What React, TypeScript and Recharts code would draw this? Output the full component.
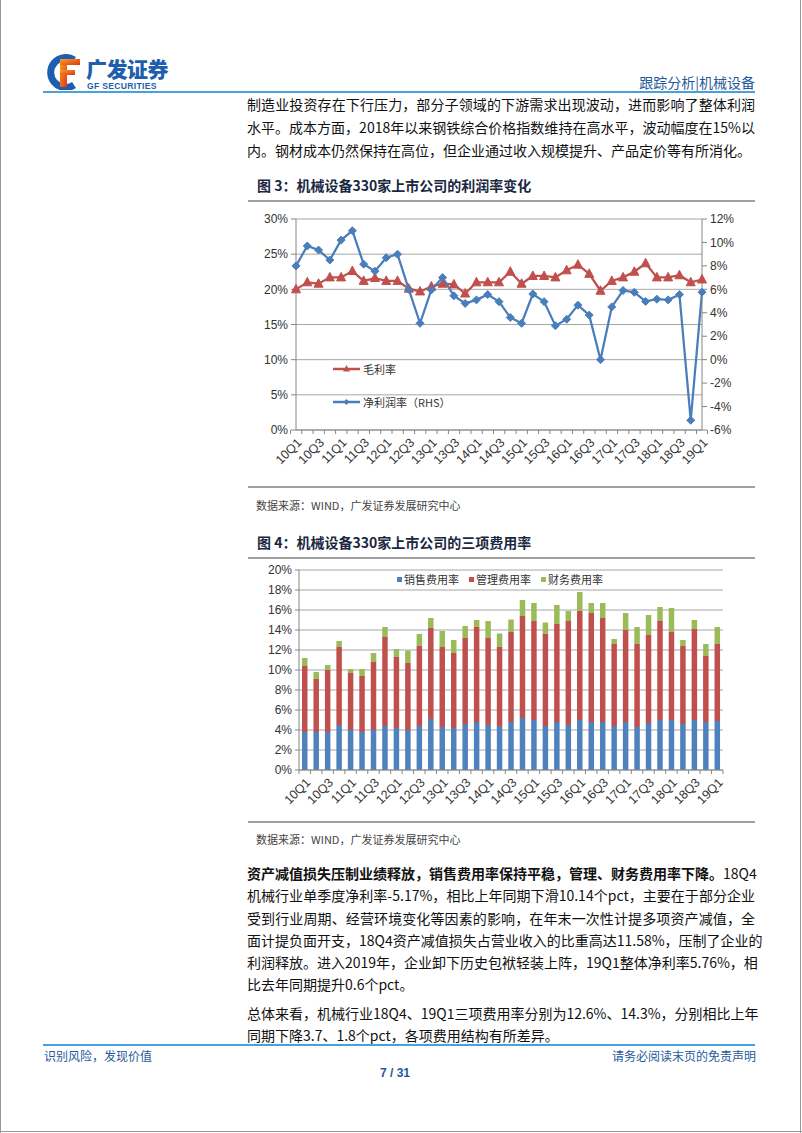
import React from 'react'
import {
  LineChart,
  Line,
  BarChart,
  Bar,
  XAxis,
  YAxis,
  CartesianGrid,
  Legend,
} from 'recharts'

// quarters 10Q1 .. 19Q1
const QUARTERS = [
  '10Q1', '10Q2', '10Q3', '10Q4', '11Q1', '11Q2', '11Q3', '11Q4',
  '12Q1', '12Q2', '12Q3', '12Q4', '13Q1', '13Q2', '13Q3', '13Q4',
  '14Q1', '14Q2', '14Q3', '14Q4', '15Q1', '15Q2', '15Q3', '15Q4',
  '16Q1', '16Q2', '16Q3', '16Q4', '17Q1', '17Q2', '17Q3', '17Q4',
  '18Q1', '18Q2', '18Q3', '18Q4', '19Q1',
]

// 图3 毛利率 (left axis, %)
const GROSS_MARGIN = [
  20.0, 21.0, 20.8, 21.7, 21.7, 22.6, 21.2, 21.6, 21.2, 21.2, 20.1, 19.7,
  20.4, 20.8, 20.7, 19.4, 21.0, 21.0, 21.0, 22.5, 20.8, 21.9, 21.9, 21.7,
  22.7, 23.5, 22.2, 19.8, 21.2, 21.7, 22.5, 23.7, 21.7, 21.7, 22.0, 21.0, 21.4,
]

// 图3 净利润率 (right axis, %)
const NET_MARGIN = [
  8.0, 9.7, 9.35, 8.5, 10.2, 11.0, 8.15, 7.55, 8.7, 9.0, 6.0, 3.1,
  5.95, 7.0, 5.45, 4.8, 5.1, 5.55, 4.95, 3.6, 3.1, 5.6, 4.95, 2.9,
  3.45, 4.65, 3.8, 0.0, 4.5, 5.9, 5.75, 4.97, 5.16, 5.1, 5.55, -5.17, 5.76,
]

// 图4 三项费用率 (%)
const SELLING = [
  3.8, 3.8, 3.8, 4.5, 4.0, 3.8, 4.0, 4.4, 4.2, 4.0, 4.4, 5.1,
  4.3, 4.2, 4.6, 4.8, 4.5, 4.4, 4.8, 5.2, 5.0, 4.4, 4.8, 4.5,
  5.0, 4.8, 4.8, 4.4, 4.8, 4.3, 4.7, 5.0, 5.0, 4.6, 5.0, 4.8, 4.9,
]
const ADMIN = [
  6.6, 5.3, 6.2, 7.8, 5.7, 5.6, 6.8, 8.9, 7.1, 6.7, 8.0, 9.1,
  8.0, 7.5, 8.6, 9.5, 8.7, 7.9, 9.0, 10.2, 9.9, 9.25, 9.8, 10.4,
  10.9, 10.9, 10.4, 8.2, 9.2, 8.3, 8.8, 9.9, 8.8, 7.8, 9.1, 6.6, 7.7,
]
const FINANCE = [
  0.8, 0.7, 0.5, 0.6, 0.4, 0.7, 0.9, 1.0, 0.8, 1.25, 1.2, 1.0,
  1.6, 1.3, 1.2, 0.7, 1.7, 1.35, 1.25, 1.6, 1.8, 1.1, 1.9, 1.0,
  1.9, 1.0, 1.5, 0.5, 1.7, 1.7, 2.0, 1.4, 2.4, 0.6, 0.9, 1.2, 1.7,
]

const LEFT_TICKS = [0, 5, 10, 15, 20, 25, 30]
const RIGHT_TICKS = [-6, -4, -2, 0, 2, 4, 6, 8, 10, 12]
const COST_TICKS = [0, 2, 4, 6, 8, 10, 12, 14, 16, 18, 20]

const PROFIT_SERIES = [
  { key: 'gross', name: '毛利率', color: '#c0504d' },
  { key: 'net', name: '净利润率（RHS）', color: '#4a7ebb' },
]
const COST_SERIES = [
  { key: 'selling', name: '销售费用率', color: '#4f81bd' },
  { key: 'admin', name: '管理费用率', color: '#c0504d' },
  { key: 'finance', name: '财务费用率', color: '#9bbb59' },
]

const profitData = QUARTERS.map((q, i) => ({
  q,
  gross: GROSS_MARGIN[i],
  net: NET_MARGIN[i],
}))
const costData = QUARTERS.map((q, i) => ({
  q,
  selling: SELLING[i],
  admin: ADMIN[i],
  finance: FINANCE[i],
}))

const AXIS_FONT = '"Liberation Sans", Arial, sans-serif'
const CJK = '"Noto Sans CJK SC", sans-serif'
const BODY_FONT = '"Liberation Sans Narrow", "Noto Sans CJK SC", sans-serif'
const AXIS_GRAY = '#868686'
const GRID_GRAY = '#a6a6a6'
const BLUE_TEXT = '#1f5a9c'

const P1_W = 406
const P2_W = 424

const QuarterTick = (props: any) => {
  const { x, y, payload, band } = props
  const i = props.index ?? payload.index
  const half = band / 2
  const lx = x + 4
  const ly = y + 11
  return (
    <g>
      <line x1={x - half} x2={x - half} y1={y} y2={y + 4} stroke={AXIS_GRAY} />
      {i === QUARTERS.length - 1 && (
        <line x1={x + half} x2={x + half} y1={y} y2={y + 4} stroke={AXIS_GRAY} />
      )}
      {i % 2 === 0 && (
        <text
          x={lx}
          y={ly}
          transform={`rotate(-45 ${lx} ${ly})`}
          textAnchor="end"
          dominantBaseline="middle"
          fontSize={12.5}
          fontFamily={AXIS_FONT}
          fill="#333"
        >
          {payload.value}
        </text>
      )}
    </g>
  )
}

const Triangle = (p: any) => {
  const { cx, cy, index } = p
  if (cx == null || cy == null) return <g key={`t${index}`} />
  return (
    <polygon
      key={`t${index}`}
      points={`${cx},${cy - 5} ${cx - 4.5},${cy + 3.5} ${cx + 4.5},${cy + 3.5}`}
      fill="#c0504d"
      stroke="#c0504d"
    />
  )
}

const Diamond = (p: any) => {
  const { cx, cy, index } = p
  if (cx == null || cy == null) return <g key={`d${index}`} />
  return (
    <polygon
      key={`d${index}`}
      points={`${cx},${cy - 4} ${cx + 4},${cy} ${cx},${cy + 4} ${cx - 4},${cy}`}
      fill="#4a7ebb"
      stroke="#4a7ebb"
    />
  )
}

const ProfitLegend = () => (
  <svg width={160} height={50}>
    {PROFIT_SERIES.map((s, i) => {
      const cy = 7 + i * 33
      return (
        <g key={s.key}>
          <line x1={0} x2={27} y1={cy} y2={cy} stroke={s.color} strokeWidth={2.5} />
          {i === 0 ? (
            <polygon points={`13.5,${cy - 4} 10,${cy + 2.5} 17,${cy + 2.5}`} fill={s.color} />
          ) : (
            <polygon points={`13.5,${cy - 3} 16.5,${cy} 13.5,${cy + 3} 10.5,${cy}`} fill={s.color} />
          )}
          <text x={30} y={cy} dominantBaseline="central" fontSize={11} fontFamily={CJK} fill="#333">
            {s.name}
          </text>
        </g>
      )
    })}
  </svg>
)

const CostLegend = () => (
  <div style={{ display: 'flex', gap: 10, alignItems: 'center' }}>
    {COST_SERIES.map((s) => (
      <div key={s.key} style={{ display: 'flex', alignItems: 'center', gap: 2 }}>
        <span style={{ width: 5, height: 5, background: s.color, display: 'inline-block' }} />
        <span style={{ fontSize: 11, fontFamily: CJK, color: '#333', lineHeight: '14px' }}>{s.name}</span>
      </div>
    ))}
  </div>
)

const ProfitChart = () => (
  <LineChart
    width={520}
    height={275}
    data={profitData}
    margin={{ top: 14, right: 0, bottom: 0, left: 0 }}
  >
    <CartesianGrid yAxisId="left" vertical={false} stroke={GRID_GRAY} />
    <XAxis
      dataKey="q"
      interval={0}
      height={50}
      tickSize={0}
      tickMargin={0}
      tickLine={false}
      stroke={AXIS_GRAY}
      tick={<QuarterTick band={P1_W / QUARTERS.length} />}
    />
    <YAxis
      yAxisId="left"
      domain={[0, 30]}
      ticks={LEFT_TICKS}
      interval={0}
      width={56}
      tickSize={5}
      tickMargin={3}
      stroke={AXIS_GRAY}
      tick={{ fill: '#333', fontSize: 12, fontFamily: AXIS_FONT }}
      tickFormatter={(v) => `${v}%`}
    />
    <YAxis
      yAxisId="right"
      orientation="right"
      domain={[-6, 12]}
      ticks={RIGHT_TICKS}
      interval={0}
      width={58}
      tickSize={5}
      tickMargin={3}
      stroke={AXIS_GRAY}
      tick={{ fill: '#333', fontSize: 12, fontFamily: AXIS_FONT }}
      tickFormatter={(v) => `${v}%`}
    />
    <Legend
      layout="horizontal"
      verticalAlign="middle"
      align="center"
      wrapperStyle={{ top: 157, left: 93, width: 160, height: 50 }}
      content={<ProfitLegend />}
    />
    <Line
      yAxisId="left"
      dataKey="gross"
      name={PROFIT_SERIES[0].name}
      stroke={PROFIT_SERIES[0].color}
      strokeWidth={2.25}
      dot={Triangle}
      isAnimationActive={false}
    />
    <Line
      yAxisId="right"
      dataKey="net"
      name={PROFIT_SERIES[1].name}
      stroke={PROFIT_SERIES[1].color}
      strokeWidth={2.25}
      dot={Diamond}
      isAnimationActive={false}
    />
  </LineChart>
)

const CostChart = () => (
  <BarChart
    width={500}
    height={260}
    data={costData}
    margin={{ top: 10, right: 17, bottom: 0, left: 0 }}
  >
    <CartesianGrid vertical={false} stroke={GRID_GRAY} />
    <XAxis
      dataKey="q"
      interval={0}
      height={50}
      tickSize={0}
      tickMargin={0}
      tickLine={false}
      stroke={AXIS_GRAY}
      tick={<QuarterTick band={P2_W / QUARTERS.length} />}
    />
    <YAxis
      domain={[0, 20]}
      ticks={COST_TICKS}
      interval={0}
      width={59}
      tickSize={4}
      tickMargin={3}
      stroke={AXIS_GRAY}
      tick={{ fill: '#333', fontSize: 12, fontFamily: AXIS_FONT }}
      tickFormatter={(v) => `${v}%`}
    />
    <Legend
      layout="horizontal"
      verticalAlign="middle"
      align="center"
      wrapperStyle={{ top: 12, left: 157, width: 220, height: 14 }}
      content={<CostLegend />}
    />
    {COST_SERIES.map((s) => (
      <Bar
        key={s.key}
        dataKey={s.key}
        name={s.name}
        stackId="cost"
        fill={s.color}
        barSize={5.5}
        isAnimationActive={false}
      />
    ))}
  </BarChart>
)

const Line1 = ({ top, children, justify = true, bold = false }: any) => (
  <div
    style={{
      position: 'absolute',
      left: 247,
      top: top - 11,
      width: 508,
      height: 22,
      lineHeight: '22px',
      fontSize: 14,
      fontFamily: BODY_FONT,
      color: '#111',
      textAlign: justify ? 'justify' : 'left',
      textAlignLast: justify ? 'justify' : 'left',
      fontWeight: bold ? 700 : 400,
      whiteSpace: 'nowrap',
    } as React.CSSProperties}
  >
    {children}
  </div>
)

const Abs = ({ style, children }: any) => (
  <div style={{ position: 'absolute', ...style }}>{children}</div>
)

const Logo = () => (
  <svg width={40} height={36} style={{ position: 'absolute', left: 44, top: 54 }}>
    <defs>
      <linearGradient id="fg" x1="0" y1="0" x2="1" y2="1">
        <stop offset="0" stopColor="#f7a21b" />
        <stop offset="1" stopColor="#e4321f" />
      </linearGradient>
    </defs>
    <path d="M30 6 A15 15 0 1 0 30 31" fill="none" stroke="#1d5fae" strokeWidth={7} />
    <rect x={16} y={8} width={7} height={25} fill="url(#fg)" />
    <rect x={16} y={5} width={20} height={6} fill="url(#fg)" />
    <rect x={16} y={16} width={15} height={5} fill="url(#fg)" />
  </svg>
)

const GrayRule = ({ top }: { top: number }) => (
  <Abs style={{ left: 248, top, width: 507, height: 2, background: '#a0a0a0' }} />
)

export default function App() {
  return (
    <div
      style={{
        position: 'absolute',
        left: 0,
        top: 0,
        width: 802,
        height: 1133,
        background: '#fff',
        overflow: 'hidden',
        fontFamily: CJK,
      }}
    >
      {/* page frame */}
      <Abs style={{ left: 0, top: 0, width: 1, height: 1133, background: '#999' }} />
      <Abs style={{ left: 800, top: 0, width: 1, height: 1133, background: '#999' }} />
      <Abs style={{ left: 0, top: 1131, width: 802, height: 1, background: '#999' }} />

      {/* header */}
      <Logo />
      <Abs style={{ left: 86, top: 56, fontSize: 21, fontWeight: 900, color: '#1d5fae', lineHeight: '24px', letterSpacing: -0.5 }}>
        广发证券
      </Abs>
      <Abs style={{ left: 87, top: 81, fontSize: 8.6, fontWeight: 700, color: '#1d5fae', fontFamily: AXIS_FONT, lineHeight: '10px', letterSpacing: 0.3 }}>
        GF SECURITIES
      </Abs>
      <Abs style={{ right: 47, top: 72, fontSize: 14, color: BLUE_TEXT, lineHeight: '20px' }}>
        跟踪分析|机械设备
      </Abs>
      <Abs style={{ left: 43, top: 91, width: 712, height: 2, background: '#4aa0dc' }} />

      {/* top paragraph */}
      <Line1 top={104}>制造业投资存在下行压力，部分子领域的下游需求出现波动，进而影响了整体利润</Line1>
      <Line1 top={127}>水平。成本方面，2018年以来钢铁综合价格指数维持在高水平，波动幅度在15%以</Line1>
      <Line1 top={150} justify={false}>内。钢材成本仍然保持在高位，但企业通过收入规模提升、产品定价等有所消化。</Line1>

      {/* figure 3 */}
      <Abs style={{ left: 257, top: 175, fontSize: 14, fontWeight: 700, color: '#1a2740', lineHeight: '20px' }}>
        图 3：机械设备330家上市公司的利润率变化
      </Abs>
      <GrayRule top={200} />
      <Abs style={{ left: 240, top: 205 }}>
        <ProfitChart />
      </Abs>
      <GrayRule top={486} />
      <Abs style={{ left: 256, top: 497, fontSize: 11, color: '#444', lineHeight: '16px' }}>
        数据来源：WIND，广发证券发展研究中心
      </Abs>

      {/* figure 4 */}
      <Abs style={{ left: 257, top: 532, fontSize: 14, fontWeight: 700, color: '#1a2740', lineHeight: '20px' }}>
        图 4：机械设备330家上市公司的三项费用率
      </Abs>
      <GrayRule top={557} />
      <Abs style={{ left: 240, top: 560 }}>
        <CostChart />
      </Abs>
      <GrayRule top={821} />
      <Abs style={{ left: 256, top: 831, fontSize: 11, color: '#444', lineHeight: '16px' }}>
        数据来源：WIND，广发证券发展研究中心
      </Abs>

      {/* bottom paragraphs */}
      <Line1 top={873}>
        <b>资产减值损失压制业绩释放，销售费用率保持平稳，管理、财务费用率下降。</b>18Q4
      </Line1>
      <Line1 top={895}>机械行业单季度净利率-5.17%，相比上年同期下滑10.14个pct，主要在于部分企业</Line1>
      <Line1 top={918}>受到行业周期、经营环境变化等因素的影响，在年末一次性计提多项资产减值，全</Line1>
      <Line1 top={940}>面计提负面开支，18Q4资产减值损失占营业收入的比重高达11.58%，压制了企业的</Line1>
      <Line1 top={962}>利润释放。进入2019年，企业卸下历史包袱轻装上阵，19Q1整体净利率5.76%，相</Line1>
      <Line1 top={984} justify={false}>比去年同期提升0.6个pct。</Line1>
      <Line1 top={1013}>总体来看，机械行业18Q4、19Q1三项费用率分别为12.6%、14.3%，分别相比上年</Line1>
      <Line1 top={1035} justify={false}>同期下降3.7、1.8个pct，各项费用结构有所差异。</Line1>

      {/* footer */}
      <Abs style={{ left: 43, top: 1044, width: 712, height: 2, background: '#4aa0dc' }} />
      <Abs style={{ left: 44, top: 1048, fontSize: 12, color: BLUE_TEXT, lineHeight: '16px' }}>
        识别风险，发现价值
      </Abs>
      <Abs style={{ right: 46, top: 1048, fontSize: 12, color: BLUE_TEXT, lineHeight: '16px' }}>
        请务必阅读末页的免责声明
      </Abs>
      <Abs style={{ left: 0, width: 790, top: 1065, textAlign: 'center', fontSize: 12, fontWeight: 700, color: BLUE_TEXT, fontFamily: AXIS_FONT, lineHeight: '16px' }}>
        7 / 31
      </Abs>
    </div>
  )
}
